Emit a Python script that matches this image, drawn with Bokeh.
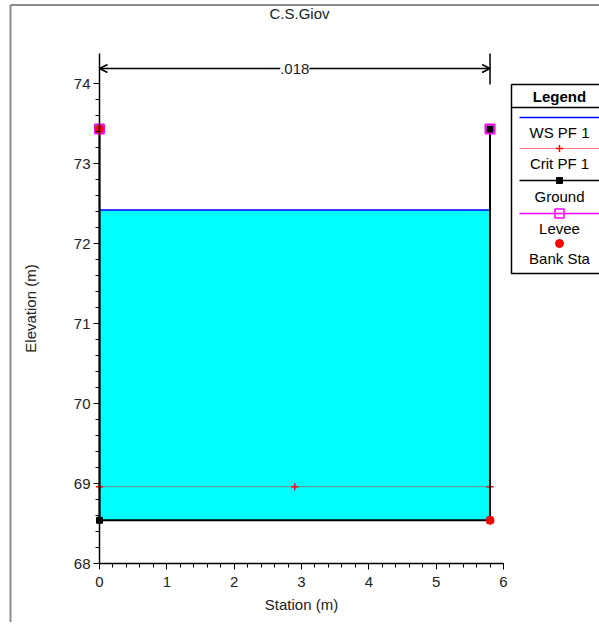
from bokeh.plotting import figure
from bokeh.models import Range1d, FixedTicker, Arrow, OpenHead, Label
from bokeh.embed import file_html
from bokeh.resources import INLINE
from bokeh.core.properties import value
import numpy as np

# ---------------- data ----------------
title_text = "C.S.Giov"
ground_sta = [0.0, 0.0, 5.8, 5.8]
ground_elev = [73.43, 68.54, 68.54, 73.43]
ws_sta = [0.0, 5.8]
ws_elev = [72.42, 72.42]
crit_sta = [0.0, 2.9, 5.8]
crit_elev = [68.96, 68.96, 68.96]
levee_sta = [0.0, 5.8]
levee_elev = [73.43, 73.43]
bank_sta = [0.0, 5.8]
bank_elev = [73.43, 68.54]
n_label = ".018"
n_sta = [0.0, 5.8]
x_ticks = [0, 1, 2, 3, 4, 5, 6]
y_ticks = [68, 69, 70, 71, 72, 73, 74]
legend_labels = ["WS PF 1", "Crit PF 1", "Ground", "Levee", "Bank Sta"]

# ---------------- geometry (canvas pixels) ----------------
FONT = "Liberation Sans"
FS = "15px"
W, H = 599, 622
PX_X = 404 / 6.0     # pixels per metre of station
PX_Y = 80.0          # pixels per metre of elevation
ZERO_X = 99          # canvas x of station 0
BASE_Y = 563         # canvas y of elevation 68


def dx(px):
    return (px - ZERO_X) / PX_X


def dy(py):
    return y_ticks[0] + (BASE_Y - py) / PX_Y


p = figure(width=W, height=H,
           x_range=Range1d(dx(0), dx(W)), y_range=Range1d(dy(H), dy(0)),
           output_backend="svg", toolbar_location=None,
           min_border_left=0, min_border_right=0, min_border_top=0, min_border_bottom=0)
p.outline_line_color = None
p.xgrid.grid_line_color = None
p.ygrid.grid_line_color = None

for ax in (p.xaxis, p.yaxis):
    ax.axis_line_color = "black"
    ax.axis_line_width = 1.5
    ax.major_tick_in = 0
    ax.major_tick_out = 6
    ax.minor_tick_in = 0
    ax.minor_tick_out = 4
    ax.major_tick_line_color = "black"
    ax.minor_tick_line_color = "black"
    ax.major_label_text_font = FONT
    ax.major_label_text_font_size = FS
    ax.major_label_text_color = "#222222"
    ax.axis_label_text_font = FONT
    ax.axis_label_text_font_size = FS
    ax.axis_label_text_font_style = "normal"
    ax.axis_label_text_color = "#222222"

p.yaxis.major_label_standoff = 3
p.xaxis.major_label_standoff = 7
p.yaxis.fixed_location = x_ticks[0]
p.xaxis.fixed_location = y_ticks[0]
p.xaxis.bounds = (x_ticks[0], x_ticks[-1])
p.yaxis.bounds = (y_ticks[0], dy(53))
p.xaxis.ticker = FixedTicker(ticks=x_ticks,
                             minor_ticks=list(np.round(np.arange(x_ticks[0], x_ticks[-1] + 0.001, 0.2), 2)))
p.yaxis.ticker = FixedTicker(ticks=y_ticks,
                             minor_ticks=list(np.round(np.arange(y_ticks[0], y_ticks[-1] + 0.001, 0.2), 2)))
p.xaxis.axis_label = "Station (m)"
p.yaxis.axis_label = "Elevation (m)"
p.xaxis.axis_label_standoff = 6
p.yaxis.axis_label_standoff = 32

# outer window frame (grey)
p.segment(x0=[dx(10), dx(10)], y0=[dy(H), dy(4.5)], x1=[dx(10), dx(W)], y1=[dy(4.5), dy(4.5)],
          line_color="#8c8c8c", line_width=2)

# title
p.add_layout(Label(x=dx(299), y=dy(13), text=title_text, text_align="center",
                   text_baseline="middle", text_font=FONT, text_font_size=FS, text_color="#222222"))

# water fill
p.varea(x=ws_sta, y1=[min(ground_elev)] * len(ws_sta), y2=ws_elev, fill_color="#00FFFF")
p.line(ws_sta, ws_elev, line_color="#0000FF", line_width=1.5)
# crit
p.line(crit_sta, crit_elev, line_color="red", line_alpha=0.5, line_width=1)
p.scatter(crit_sta, crit_elev, marker="cross", size=7, line_color="red", line_width=1.5)
# ground, levee, bank
p.line(ground_sta, ground_elev, line_color="black", line_width=2)
p.scatter(levee_sta, levee_elev, marker="square", size=9, fill_color=None,
          line_color="#FF00FF", line_width=2)
p.scatter(ground_sta, ground_elev, marker="square", size=6, fill_color="black", line_color="black")
p.scatter(bank_sta, bank_elev, marker="circle", size=8, fill_color="red", line_color="red")

# n-value annotation
y_arrow = dy(68)
p.add_layout(Arrow(x_start=n_sta[0], y_start=y_arrow, x_end=n_sta[1], y_end=y_arrow,
                   start=OpenHead(size=8, line_width=1.5), end=OpenHead(size=8, line_width=1.5),
                   line_width=1.5, line_color="black"))
p.segment(x0=[n_sta[1]], y0=[dy(84)], x1=[n_sta[1]], y1=[dy(53)], line_color="black", line_width=1.5)
p.add_layout(Label(x=sum(n_sta) / 2, y=y_arrow, text=n_label, text_align="center",
                   text_baseline="middle", text_font=FONT, text_font_size=FS,
                   text_color="#222222", background_fill_color="white"))

# ---------------- legend (drawn) ----------------
LX0, LX1, LXC = 511, 612, 559
p.quad(left=[dx(LX0)], right=[dx(LX1)], top=[dy(84)], bottom=[dy(273)],
       fill_color="white", line_color="black", line_width=1.5)
p.segment(x0=[dx(LX0)], y0=[dy(107)], x1=[dx(LX1)], y1=[dy(107)], line_color="black", line_width=1.5)
p.text(x=[dx(LXC)], y=[dy(95.5)], text=["Legend"], text_align="center", text_baseline="middle",
       text_font=value(FONT), text_font_size=FS, text_font_style="bold", text_color="black")

sym_y = [117, 148, 180, 213]
txt_y = [132, 163, 196, 228, 258]
line_styles = [("#0000FF", 1.0, 1.5), ("red", 0.5, 1.0), ("black", 1.0, 1.5), ("#FF00FF", 1.0, 1.5)]
for yy, (c, a, w) in zip(sym_y, line_styles):
    p.segment(x0=[dx(519)], y0=[dy(yy)], x1=[dx(605)], y1=[dy(yy)], line_color=c, line_alpha=a, line_width=w)
p.scatter([dx(LXC)], [dy(148)], marker="cross", size=7, line_color="red", line_width=1.5)
p.scatter([dx(LXC)], [dy(180)], marker="square", size=6, fill_color="black", line_color="black")
p.scatter([dx(LXC)], [dy(213)], marker="square", size=9, fill_color=None, line_color="#FF00FF", line_width=1.5)
p.scatter([dx(LXC)], [dy(243)], marker="circle", size=8, fill_color="red", line_color="red")
p.text(x=[dx(LXC)] * len(legend_labels), y=[dy(t) for t in txt_y], text=legend_labels,
       text_align="center", text_baseline="middle", text_font=value(FONT), text_font_size=FS,
       text_color="black")

open("out.html", "w").write(file_html(p, INLINE))
